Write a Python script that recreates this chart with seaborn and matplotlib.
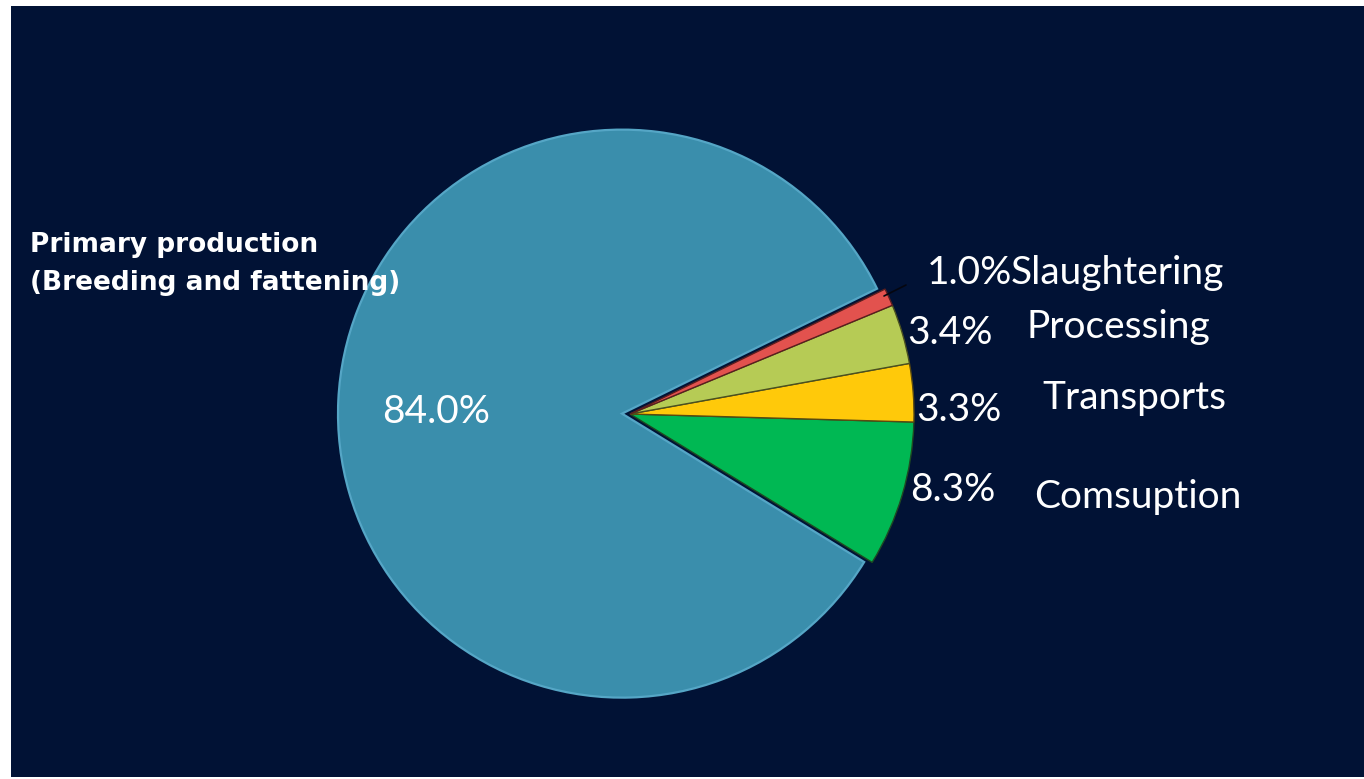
import matplotlib
matplotlib.use("Agg")
import matplotlib.pyplot as plt
import seaborn as sns
from matplotlib.patches import Rectangle

# Emission shares along the supply chain (percent)
categories = ["Comsuption", "Transports", "Processing", "Slaughtering",
              "Primary production\n(Breeding and fattening)"]
shares = [8.3, 3.3, 3.4, 1.0, 84.0]
slice_colors = ["#00B853", "#FFC90A", "#B6CB55", "#E2524E", "#3A8EAC"]
edge_colors = ["#1E4A22", "#5A4A10", "#4A5020", "#5A1E1E", "#55A6C6"]

sns.set_theme(style="white")
plt.rcParams["font.family"] = ["Lato", "DejaVu Sans"]

W, H = 1364, 779
BG = "#011235"

fig = plt.figure(figsize=(W / 100, H / 100), dpi=100, facecolor="white")
ax = fig.add_axes([0, 0, 1, 1])
ax.add_patch(Rectangle((11, H - 777), W - 11, 771, facecolor=BG,
                       edgecolor="none", zorder=0))

wedges, _ = ax.pie(
    shares, colors=slice_colors, startangle=-31.5, counterclock=True,
    center=(630, H - 414), radius=284, explode=[0, 0, 0, 0, 8], frame=True,
    wedgeprops=dict(linewidth=1.0),
)
for w, ec in zip(wedges, edge_colors):
    w.set_edgecolor(ec)
    w.set_zorder(2)
wedges[-1].set_linewidth(1.6)
wedges[-1].set_zorder(1)

ax.set_xlim(0, W)
ax.set_ylim(0, H)
ax.set_aspect("equal")
ax.axis("off")

# leader from the smallest slice to its label
ax.plot([884, 906], [H - 296, H - 285], color="#05060f", lw=1.2, zorder=3)

pct = [f"{v:.1f}%" for v in shares]
txt = dict(color="white", fontsize=28, va="baseline", ha="left", zorder=4)

# percentage labels (x, baseline y)
pct_pos = [(910, 501), (916, 421), (907, 344), (927, 284), (382, 423)]
for p, (x, y) in zip(pct, pct_pos):
    ax.text(x, H - y, p, **txt)

# category labels on the right
name_pos = [(1034, 508), (1042, 409), (1026, 338), (1011, 284)]
for name, (x, y) in zip(categories[:4], name_pos):
    ax.text(x, H - y, name, **txt)

ax.text(30, H - 290, categories[4], color="white", fontsize=19,
        fontweight="semibold", va="baseline", ha="left", linespacing=1.6,
        family=["DejaVu Sans"], zorder=4)

fig.savefig("out.png", dpi=100, facecolor=fig.get_facecolor())
